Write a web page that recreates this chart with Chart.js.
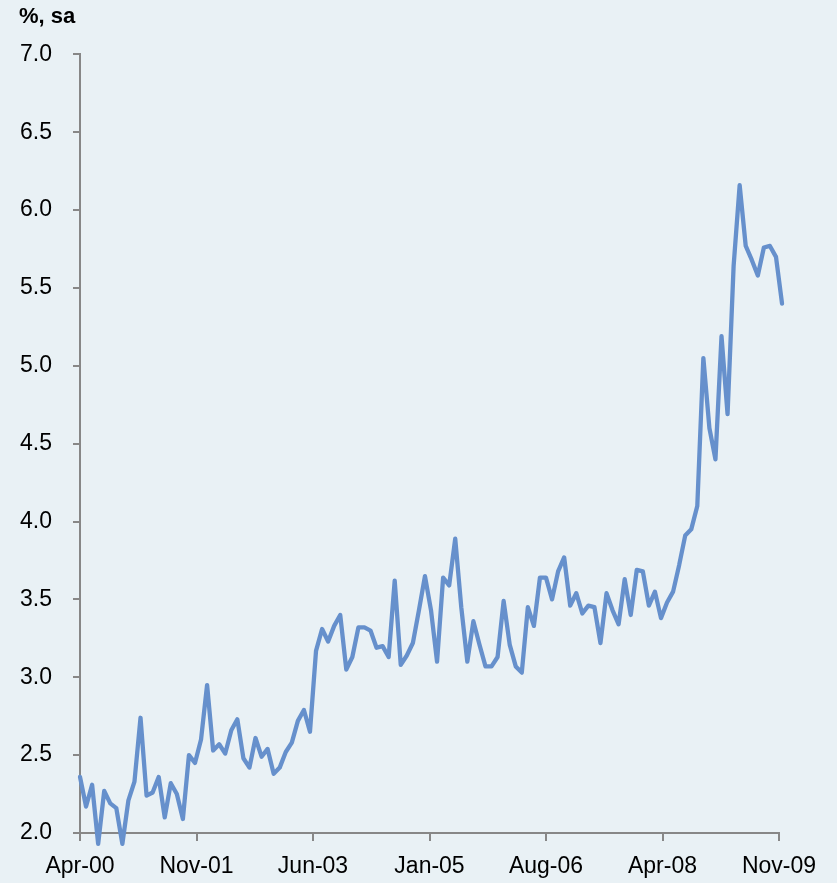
<!DOCTYPE html>
<html>
<head>
<meta charset="utf-8">
<title>%, sa</title>
<script src="https://cdn.jsdelivr.net/npm/chart.js@4.4.1/dist/chart.umd.min.js"></script>
<style>
  html, body { margin: 0; padding: 0; background: #E9F1F5; }
  #chart { display: block; }
</style>
</head>
<body>
<canvas id="chart" width="837" height="883"></canvas>
<script>
// monthly series, Apr-00 .. Dec-09
var values = [
  2.36, 2.17, 2.31, 1.93, 2.27, 2.19, 2.16, 1.93, 2.21, 2.33,
  2.74, 2.24, 2.26, 2.36, 2.10, 2.32, 2.25, 2.09, 2.50, 2.45,
  2.60, 2.95, 2.53, 2.57, 2.51, 2.66, 2.73, 2.48, 2.42, 2.61,
  2.49, 2.54, 2.38, 2.42, 2.52, 2.58, 2.72, 2.79, 2.65, 3.17,
  3.31, 3.23, 3.33, 3.40, 3.05, 3.13, 3.32, 3.32, 3.30, 3.19,
  3.20, 3.13, 3.62, 3.08, 3.14, 3.22, 3.43, 3.65, 3.43, 3.10,
  3.64, 3.59, 3.89, 3.45, 3.10, 3.36, 3.21, 3.07, 3.07, 3.13,
  3.49, 3.21, 3.07, 3.03, 3.45, 3.33, 3.64, 3.64, 3.50, 3.68,
  3.77, 3.46, 3.54, 3.41, 3.46, 3.45, 3.22, 3.54, 3.43, 3.34,
  3.63, 3.40, 3.69, 3.68, 3.46, 3.55, 3.38, 3.48, 3.55, 3.72,
  3.91, 3.95, 4.10, 5.05, 4.60, 4.40, 5.19, 4.69, 5.64, 6.16,
  5.77, 5.68, 5.58, 5.76, 5.77, 5.70, 5.40
];

// labels shown under the x axis, evenly spread over the axis
var tickLabels = ['Apr-00', 'Nov-01', 'Jun-03', 'Jan-05', 'Aug-06', 'Apr-08', 'Nov-09'];

// y axis range and step
var yMin = 2.0;
var yMax = 7.0;
var yStep = 0.5;

// last labelled month sits at this position on the month-index axis
var xEnd = 115.5;

var axisGrey = '#878787';
var fontFamily = "'Liberation Sans', Arial, Helvetica, sans-serif";

var points = values.map(function(v, i) {
    return { x: i, y: v };
});

var ctx = document.getElementById('chart').getContext('2d');
var chart = new Chart(ctx, {
    type: 'line',
    data: {
        datasets: [{
            data: points,
            borderColor: '#6690CC',
            borderWidth: 4.3,
            borderJoinStyle: 'round',
            borderCapStyle: 'round',
            pointRadius: 0,
            tension: 0,
            fill: false,
            clip: false
        }]
    },
    options: {
        responsive: false,
        animation: false,
        layout: {
            padding: { left: 19, right: 58, top: 0, bottom: 0 }
        },
        plugins: {
            legend: { display: false },
            tooltip: { enabled: false },
            title: {
                display: true,
                text: '%, sa',
                align: 'start',
                color: '#000',
                font: { family: fontFamily, size: 22, weight: 'bold', lineHeight: 1.2 },
                padding: { top: 4, bottom: 24 }
            }
        },
        scales: {
            x: {
                type: 'linear',
                min: 0,
                max: xEnd,
                afterBuildTicks: function(axis) {
                    var n = tickLabels.length - 1;
                    axis.ticks = tickLabels.map(function(_, j) {
                        return { value: j * xEnd / n };
                    });
                },
                afterFit: function(axis) {
                    axis.height = 50;
                },
                ticks: {
                    autoSkip: false,
                    maxRotation: 0,
                    padding: 12,
                    color: '#000',
                    font: { family: fontFamily, size: 23 },
                    callback: function(value, index) {
                        return tickLabels[index];
                    }
                },
                grid: {
                    drawOnChartArea: false,
                    drawTicks: true,
                    tickLength: 8,
                    color: axisGrey,
                    lineWidth: 2
                },
                border: { display: true, color: axisGrey, width: 2 }
            },
            y: {
                min: yMin,
                max: yMax,
                afterFit: function(axis) {
                    axis.width = 61;
                },
                ticks: {
                    stepSize: yStep,
                    padding: 21,
                    color: '#000',
                    font: { family: fontFamily, size: 23 },
                    callback: function(value) {
                        return value.toFixed(1);
                    }
                },
                grid: {
                    drawOnChartArea: false,
                    drawTicks: true,
                    tickLength: 7,
                    color: axisGrey,
                    lineWidth: 2
                },
                border: { display: true, color: axisGrey, width: 2 }
            }
        }
    }
});
</script>
</body>
</html>
